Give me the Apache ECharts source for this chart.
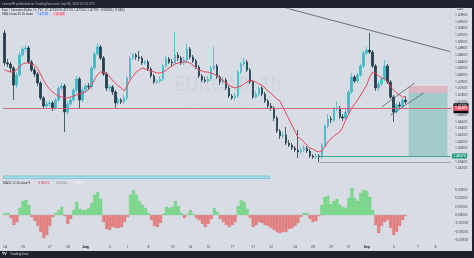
<!DOCTYPE html>
<html><head><meta charset="utf-8">
<script src="https://cdn.jsdelivr.net/npm/echarts@6/dist/echarts.min.js"></script>
<style>
html,body{margin:0;padding:0;background:#1e222d;}
#wrap{position:relative;width:474px;height:258px;background:#1e222d;overflow:hidden;}
#panel{position:absolute;left:0;top:8px;width:472px;height:243px;background:#d8dce4;}
#chart{position:absolute;left:0;top:0;width:474px;height:258px;}
</style></head><body>
<div id="wrap"><div id="panel"></div><div id="chart"></div></div>
<script>
// ---- candle data (EUR/CAD 1h) ----
const opens = [1.4926,1.4836,1.4833,1.4821,1.4770,1.4800,1.4860,1.4878,1.4881,1.4839,
1.4815,1.4803,1.4776,1.4731,1.4707,1.4713,1.4716,1.4701,1.4725,1.4761,
1.4767,1.4689,1.4713,1.4725,1.4755,1.4788,1.4725,1.4755,1.4767,1.4764,
1.4821,1.4863,1.4884,1.4851,1.4803,1.4761,1.4764,1.4749,1.4716,1.4725,
1.4719,1.4731,1.4791,1.4851,1.4860,1.4854,1.4851,1.4836,1.4839,1.4818,
1.4797,1.4779,1.4782,1.4788,1.4827,1.4848,1.4839,1.4836,1.4860,1.4851,
1.4836,1.4845,1.4878,1.4854,1.4842,1.4824,1.4797,1.4785,1.4782,1.4788,
1.4821,1.4827,1.4794,1.4779,1.4785,1.4761,1.4737,1.4731,1.4737,1.4809,
1.4833,1.4839,1.4815,1.4779,1.4734,1.4743,1.4761,1.4743,1.4722,1.4707,
1.4701,1.4671,1.4632,1.4617,1.4620,1.4596,1.4590,1.4581,1.4575,1.4569,
1.4575,1.4581,1.4572,1.4557,1.4554,1.4557,1.4554,1.4590,1.4647,1.4668,
1.4665,1.4698,1.4701,1.4674,1.4671,1.4689,1.4749,1.4794,1.4782,1.4800,
1.4827,1.4866,1.4875,1.4869,1.4827,1.4761,1.4773,1.4788,1.4827,1.4779,
1.4734,1.4689,1.4710,1.4707,1.4725];
const closes = [1.4836,1.4833,1.4821,1.4770,1.4800,1.4860,1.4878,1.4881,1.4839,1.4815,
1.4803,1.4776,1.4731,1.4707,1.4713,1.4716,1.4701,1.4725,1.4761,1.4767,
1.4689,1.4713,1.4725,1.4755,1.4788,1.4725,1.4755,1.4767,1.4764,1.4821,
1.4863,1.4884,1.4851,1.4803,1.4761,1.4764,1.4749,1.4716,1.4725,1.4719,
1.4731,1.4791,1.4851,1.4860,1.4854,1.4851,1.4836,1.4839,1.4818,1.4797,
1.4779,1.4782,1.4788,1.4827,1.4848,1.4839,1.4836,1.4860,1.4851,1.4836,
1.4845,1.4878,1.4854,1.4842,1.4824,1.4797,1.4785,1.4782,1.4788,1.4821,
1.4827,1.4794,1.4779,1.4785,1.4761,1.4737,1.4731,1.4737,1.4809,1.4833,
1.4839,1.4815,1.4779,1.4734,1.4743,1.4761,1.4743,1.4722,1.4707,1.4701,
1.4671,1.4632,1.4617,1.4620,1.4596,1.4590,1.4581,1.4575,1.4569,1.4575,
1.4581,1.4572,1.4557,1.4554,1.4557,1.4554,1.4590,1.4647,1.4668,1.4665,
1.4698,1.4701,1.4674,1.4671,1.4689,1.4749,1.4794,1.4782,1.4800,1.4827,
1.4866,1.4875,1.4869,1.4827,1.4761,1.4773,1.4788,1.4827,1.4779,1.4734,
1.4689,1.4710,1.4707,1.4725,1.4719];
const highs = [1.4935,1.4848,1.4839,1.4827,1.4809,1.4869,1.4884,1.4890,1.4887,1.4845,
1.4824,1.4809,1.4782,1.4737,1.4722,1.4725,1.4722,1.4731,1.4767,1.4776,
1.4773,1.4722,1.4734,1.4761,1.4797,1.4794,1.4764,1.4773,1.4776,1.4827,
1.4869,1.4896,1.4890,1.4857,1.4809,1.4770,1.4770,1.4755,1.4734,1.4731,
1.4740,1.4797,1.4857,1.4866,1.4866,1.4872,1.4857,1.4845,1.4845,1.4824,
1.4803,1.4788,1.4797,1.4833,1.4857,1.4854,1.4848,1.4929,1.4869,1.4857,
1.4854,1.4893,1.4884,1.4860,1.4848,1.4830,1.4803,1.4794,1.4797,1.4827,
1.4884,1.4833,1.4800,1.4794,1.4791,1.4767,1.4743,1.4746,1.4815,1.4839,
1.4851,1.4845,1.4821,1.4785,1.4752,1.4767,1.4767,1.4749,1.4728,1.4716,
1.4707,1.4677,1.4638,1.4629,1.4644,1.4605,1.4596,1.4587,1.4635,1.4584,
1.4590,1.4587,1.4578,1.4563,1.4566,1.4563,1.4596,1.4653,1.4683,1.4677,
1.4704,1.4722,1.4707,1.4683,1.4698,1.4755,1.4806,1.4800,1.4806,1.4833,
1.4872,1.4884,1.4926,1.4875,1.4833,1.4782,1.4794,1.4845,1.4833,1.4785,
1.4740,1.4716,1.4719,1.4731,1.4737];
const lows = [1.4827,1.4824,1.4809,1.4725,1.4761,1.4794,1.4854,1.4869,1.4833,1.4809,
1.4794,1.4767,1.4725,1.4698,1.4701,1.4704,1.4692,1.4695,1.4719,1.4752,
1.4629,1.4680,1.4707,1.4719,1.4749,1.4701,1.4719,1.4749,1.4755,1.4758,
1.4815,1.4857,1.4845,1.4797,1.4752,1.4752,1.4740,1.4701,1.4710,1.4713,
1.4713,1.4725,1.4785,1.4845,1.4845,1.4842,1.4830,1.4830,1.4812,1.4791,
1.4773,1.4773,1.4776,1.4782,1.4821,1.4833,1.4827,1.4830,1.4842,1.4830,
1.4830,1.4839,1.4848,1.4836,1.4818,1.4791,1.4779,1.4776,1.4776,1.4782,
1.4815,1.4788,1.4770,1.4773,1.4755,1.4731,1.4725,1.4722,1.4731,1.4803,
1.4827,1.4809,1.4773,1.4728,1.4728,1.4737,1.4737,1.4716,1.4701,1.4692,
1.4662,1.4626,1.4608,1.4611,1.4590,1.4584,1.4575,1.4569,1.4551,1.4563,
1.4569,1.4566,1.4551,1.4548,1.4548,1.4539,1.4548,1.4584,1.4641,1.4656,
1.4659,1.4692,1.4668,1.4662,1.4665,1.4683,1.4743,1.4776,1.4776,1.4794,
1.4821,1.4860,1.4863,1.4821,1.4752,1.4752,1.4767,1.4782,1.4773,1.4728,
1.4659,1.4683,1.4698,1.4701,1.4713];
// EMA line as drawn
const emaLine = [1.4815,1.4812,1.4809,1.4809,1.4815,1.4824,1.4833,1.4836,1.4836,1.4833,
1.4830,1.4821,1.4803,1.4785,1.4770,1.4758,1.4749,1.4743,1.4737,1.4734,
1.4731,1.4731,1.4734,1.4737,1.4740,1.4743,1.4746,1.4749,1.4755,1.4767,
1.4785,1.4800,1.4809,1.4809,1.4806,1.4797,1.4785,1.4776,1.4767,1.4761,
1.4752,1.4767,1.4785,1.4797,1.4809,1.4815,1.4821,1.4818,1.4815,1.4812,
1.4809,1.4806,1.4806,1.4809,1.4815,1.4821,1.4827,1.4833,1.4836,1.4839,
1.4839,1.4839,1.4836,1.4830,1.4821,1.4815,1.4812,1.4809,1.4809,1.4806,
1.4803,1.4797,1.4791,1.4782,1.4776,1.4770,1.4764,1.4761,1.4764,1.4767,
1.4773,1.4779,1.4785,1.4782,1.4779,1.4773,1.4770,1.4761,1.4752,1.4746,
1.4737,1.4728,1.4722,1.4704,1.4686,1.4668,1.4650,1.4632,1.4614,1.4608,
1.4599,1.4590,1.4581,1.4578,1.4572,1.4569,1.4572,1.4584,1.4599,1.4608,
1.4617,1.4623,1.4629,1.4644,1.4665,1.4683,1.4701,1.4713,1.4725,1.4740,
1.4755,1.4770,1.4794,1.4809,1.4806,1.4797,1.4791,1.4788,1.4779,1.4764,
1.4755,1.4746,1.4740,1.4734,1.4734];
// MACD histogram
const macdHist = [0.00024,0.00024,-0.00036,-0.0012,-0.00084,0.00084,0.00168,0.0018,0.0012,-0.00024,
-0.00072,-0.00132,-0.00204,-0.00276,-0.0024,-0.00132,-0.00024,0.00024,0.0006,0.00096,
-0.00012,-0.00108,-0.00048,0.0006,0.00156,0.00072,0.0006,0.0006,0.00084,0.00144,
0.0024,0.00276,0.00192,-0.00084,-0.00168,-0.0018,-0.00144,-0.00156,-0.00156,-0.00144,
-0.00084,-0.00024,0.0024,0.003,0.0024,0.00168,0.0012,0.00084,0.00024,-0.0006,
-0.00132,-0.00144,-0.00096,0.00012,0.00096,0.00084,0.00096,0.00168,0.00108,0.00024,
-0.00036,0.00012,0.0006,0.00012,-0.00036,-0.0006,-0.00108,-0.00144,-0.00108,-0.00048,
0.00084,0.00036,-0.00048,-0.00084,-0.0012,-0.00144,-0.0012,-0.00084,0.00108,0.0018,
0.00156,0.00072,-0.00036,-0.00144,-0.0012,-0.00084,-0.00096,-0.0012,-0.00132,-0.00156,
-0.0018,-0.00204,-0.00216,-0.00204,-0.00204,-0.00168,-0.00156,-0.00132,-0.00096,-0.00024,
0.00024,0.00024,-0.00048,-0.00084,-0.00072,-0.00012,0.0012,0.00216,0.00228,0.00132,
0.00168,0.00192,0.0012,0.00096,0.00084,0.00204,0.00324,0.00204,0.00168,0.00264,
0.003,0.00288,0.00216,0.0006,-0.0012,-0.00216,-0.00132,-0.00084,-0.0006,-0.00156,
-0.0024,-0.00204,-0.00132,-0.0006,-0.00012];
const futureSlots = 15;
// time axis ticks (bar index -> label)
const tickIndex = [0,6,15,21,27,35,41,48,56,62,68,76,83,89,97,103,109,115,121,130,138,144];
const tickText = ['24','25','27','28','Aug','3','7','8','10','14','15','17','21','22','24','28','29','31','Sep','5','7','8'];
// drawn levels
const currentLevel = 1.4719, redLevel = 1.4686;
const stopLevel = 1.4767, entryLevel = 1.4746, targetLevel = 1.4557, targetLow = 1.4539;
const trendLine = [[94, 1.5001], [149, 1.4870]];
const channelUpper = [[126, 1.4704], [137, 1.4776]];
const channelLower = [[129, 1.4680], [140, 1.4746]];
const boxFrom = 135, boxTo = 148, targetFrom = 105, cyanTo = 88;

const SLOTS = opens.length + futureSlots;
const cats = Array.from({length: SLOTS}, (_, i) => 'b' + i);
const candleData = opens.map((o, i) => [o, closes[i], lows[i], highs[i]]);
const tickMap = {}; tickIndex.forEach((ix, k) => tickMap[ix] = tickText[k]);
const FONT = 'Roboto, "Noto Sans", sans-serif';
const labelBase = {show: true, position: 'end', distance: 1.5, fontSize: 3.3, fontFamily: FONT,
  color: '#fff', padding: [1, 1.5], borderRadius: 0.5};

const chart = echarts.init(document.getElementById('chart'), null, {renderer: 'canvas'});
chart.setOption({
  animation: false,
  backgroundColor: 'transparent',
  grid: [
    {left: 3, right: 22, top: 9, height: 166},
    {left: 3, right: 22, top: 175, height: 65}
  ],
  xAxis: [
    {type: 'category', gridIndex: 0, data: cats, axisLine: {show: false}, axisTick: {show: false},
     axisLabel: {show: false}, splitLine: {show: false}},
    {type: 'category', gridIndex: 1, data: cats, axisLine: {show: false}, axisTick: {show: false},
     splitLine: {show: false},
     axisLabel: {show: true, interval: (i) => tickMap[i] !== undefined, margin: 5,
       fontSize: 3.5, color: '#4a4f5c', fontFamily: FONT,
       formatter: (v, i) => { const t = tickMap[i]; if (t === undefined) return ''; return /[A-Za-z]/.test(t) ? '{b|' + t + '}' : t; },
       rich: {b: {fontWeight: 'bold', fontSize: 3.5, color: '#1e222d', fontFamily: FONT}}}}
  ],
  yAxis: [
    {type: 'value', gridIndex: 0, position: 'right', min: 1.45, max: 1.4998, interval: 0.002,
     axisLine: {show: false}, axisTick: {show: false}, splitLine: {show: false},
     axisLabel: {fontSize: 3.4, color: '#4a4f5c', margin: 3, fontFamily: FONT, showMinLabel: false,
       formatter: v => Math.round(v * 10000) % 20 === 0 ? v.toFixed(5) : ''}},
    {type: 'value', gridIndex: 1, position: 'right', min: -0.003, max: 0.0048, interval: 0.001,
     axisLine: {show: false}, axisTick: {show: false}, splitLine: {show: false},
     axisLabel: {fontSize: 3.4, color: '#4a4f5c', margin: 3, fontFamily: FONT,
       formatter: v => Math.abs(v) <= 0.00301 ? v.toFixed(5) : ''}}
  ],
  series: [
    {type: 'candlestick', xAxisIndex: 0, yAxisIndex: 0, data: candleData, barWidth: 2, clip: false,
     itemStyle: {color: '#45b9c6', color0: '#243f4c', borderColor: '#45b9c6', borderColor0: '#243f4c', borderWidth: 0.8},
     markArea: {silent: true, label: {show: false}, data: [
       [{xAxis: boxFrom, yAxis: stopLevel, itemStyle: {color: 'rgba(242,54,69,0.22)'}}, {xAxis: boxTo, yAxis: entryLevel}],
       [{xAxis: boxFrom, yAxis: entryLevel, itemStyle: {color: 'rgba(8,153,129,0.25)'}}, {xAxis: boxTo, yAxis: targetLevel}]
     ]},
     markLine: {silent: true, symbol: ['none', 'none'], animation: false, data: [
       {yAxis: currentLevel, lineStyle: {color: '#8a909c', width: 0.7, type: 'solid'},
        label: Object.assign({}, labelBase, {formatter: currentLevel.toFixed(5) + '\n28:15', backgroundColor: '#0b0d12', lineHeight: 4})},
       {yAxis: redLevel, lineStyle: {color: '#e0566a', width: 0.7, type: 'solid'},
        label: Object.assign({}, labelBase, {formatter: redLevel.toFixed(5), backgroundColor: '#f0566a'})},
       {yAxis: stopLevel, lineStyle: {opacity: 0},
        label: Object.assign({}, labelBase, {formatter: stopLevel.toFixed(5), backgroundColor: '#f06474'})},
       {yAxis: entryLevel, lineStyle: {opacity: 0},
        label: Object.assign({}, labelBase, {formatter: entryLevel.toFixed(5), backgroundColor: '#7d8391'})},
       [{coord: [targetFrom, targetLevel], lineStyle: {color: '#1e9e7e', width: 0.8, type: 'solid'},
         label: Object.assign({}, labelBase, {formatter: targetLevel.toFixed(5), backgroundColor: '#1f9e80'})},
        {coord: [SLOTS - 1, targetLevel]}],
       [{coord: [targetFrom, targetLow], lineStyle: {color: '#8a909c', width: 0.7, type: 'solid'}, label: {show: false}},
        {coord: [SLOTS - 1, targetLow]}]
     ]}},
    {type: 'line', xAxisIndex: 0, yAxisIndex: 0, data: emaLine, symbol: 'none', silent: true,
     lineStyle: {color: '#e5475d', width: 1}},
    {type: 'line', xAxisIndex: 0, yAxisIndex: 0, data: trendLine, symbol: 'none', silent: true,
     lineStyle: {color: '#4a4f5a', width: 0.8}},
    {type: 'line', xAxisIndex: 0, yAxisIndex: 0, data: channelUpper, symbol: 'none', silent: true,
     lineStyle: {color: '#4a4f5a', width: 0.7}},
    {type: 'line', xAxisIndex: 0, yAxisIndex: 0, data: channelLower, symbol: 'none', silent: true,
     lineStyle: {color: '#4a4f5a', width: 0.7}},
    {type: 'bar', xAxisIndex: 1, yAxisIndex: 1, barCategoryGap: '0%', silent: true,
     data: macdHist.map(v => ({value: v, itemStyle: {color: v >= 0 ? '#7ddb8c' : '#e58282',
       borderColor: v >= 0 ? '#5cbf6e' : '#cf6a6a', borderWidth: 0.3}})),
     markArea: {silent: true, label: {show: false}, data: [
       [{xAxis: 0, yAxis: 0.00438, itemStyle: {color: '#a8dde6', borderColor: '#62b7d3', borderWidth: 0.6}}, {xAxis: cyanTo, yAxis: 0.00468}]
     ]}}
  ],
  graphic: [
    {type: 'text', x: 2, y: 4, silent: true, style: {text: 'Lemon99 published on TradingView.com, Sep 06, 2023 03:15 UTC', fill: '#aeb3bf', font: '3.2px ' + FONT, verticalAlign: 'middle'}},
    {type: 'text', x: 2, y: 10, silent: true, style: {text: 'Euro / Canadian Dollar, 1h, TVC  O1.47250 H1.47370 L1.47130 C1.47190 \u22120.00060 (\u22120.04%)', fill: '#2a2e39', font: '3px ' + FONT, verticalAlign: 'middle'}},
    {type: 'text', x: 2, y: 14, silent: true, style: {text: '{a|EMA Cross 50 20 close} {b|1.47720} {c|1.47340}', verticalAlign: 'middle',
      rich: {a: {fill: '#2a2e39', font: '3px ' + FONT}, b: {fill: '#2962ff', font: '3px ' + FONT, backgroundColor: '#c7d6f2', padding: [0.5, 1]},
             c: {fill: '#e0364d', font: '3px ' + FONT, backgroundColor: '#efc7cf', padding: [0.5, 1]}}}},
    {type: 'text', x: 3, y: 183, silent: true, style: {text: '{a|MACD 12 26 close 9}  {b|\u22120.00012}  {c|0.00054}  {d|0.00066}', verticalAlign: 'middle',
      rich: {a: {fill: '#2a2e39', font: '3px ' + FONT}, b: {fill: '#e0364d', font: '3px ' + FONT}, c: {fill: '#8a909c', font: '3px ' + FONT}, d: {fill: '#f2f3f5', font: '3px ' + FONT}}}},
    {type: 'text', x: 457, y: 9.5, silent: true, style: {text: 'CAD', fill: '#4a4f5c', font: '3.2px ' + FONT, verticalAlign: 'middle'}},
    {type: 'text', x: 228, y: 86, silent: true, z: -1, style: {text: 'EURCAD, 1h', fill: 'rgba(90,100,120,0.05)', font: '600 20px ' + FONT, align: 'center', verticalAlign: 'middle'}},
    {type: 'text', x: 220, y: 106, silent: true, z: -1, style: {text: 'Euro / Canadian Dollar', fill: 'rgba(90,100,120,0.05)', font: '7px ' + FONT, align: 'center', verticalAlign: 'middle'}},
    {type: 'text', x: 2, y: 254.5, silent: true, style: {text: '{a|TV} {b|TradingView}', verticalAlign: 'middle',
      rich: {a: {fill: '#ffffff', font: 'bold 3.6px ' + FONT}, b: {fill: '#d1d4dc', font: '3.4px ' + FONT}}}}
  ]
});
</script>
</body></html>
